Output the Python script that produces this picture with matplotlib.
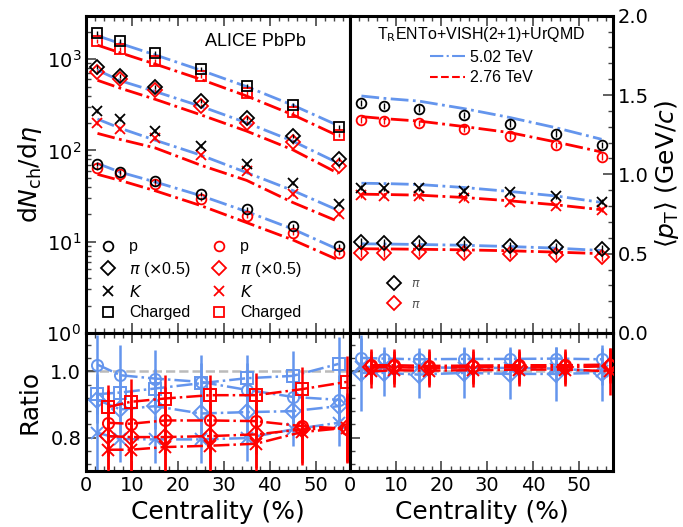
import matplotlib
matplotlib.use("Agg")
import matplotlib.pyplot as plt
from matplotlib.lines import Line2D
from matplotlib.ticker import MultipleLocator, LogLocator, NullFormatter
import numpy as np

### values
cent = [2.5, 7.5, 15, 25, 35, 45, 55]          # centrality bin centres (%)
cent_shift = [4.7, 9.7, 17.2, 27, 37, 47, 56.8]  # 2.76 TeV ratio points are shifted

# dNch/deta (ALICE data, 5.02 and 2.76 TeV)
ch_502 = [1943, 1587, 1180, 786, 512, 318, 183]
ch_276 = [1601, 1294, 966, 649, 426, 261, 149]
pi_502 = [830, 656, 496, 349, 229, 144, 81]     # x0.5
pi_276 = [730, 600, 455, 305, 201, 124, 68]
k_502 = [271, 220, 164, 112, 71.6, 44.3, 26.1]
k_276 = [202, 173, 138, 89, 60, 33, 20]
p_502 = [70.6, 58.5, 46.3, 33.1, 22.7, 14.9, 9.0]
p_276 = [64.8, 55.7, 42.6, 29.2, 19.1, 12.6, 7.6]

# model dNch/deta
ch_502_m = [1809, 1485, 1119, 758, 501, 314, 187]
ch_276_m = [1428, 1175, 887, 602, 395, 247, 144]
pi_502_m = [759, 581, 444, 305, 201, 127, 72.5]
pi_276_m = [588, 481, 365, 246, 163, 102, 56]
k_502_m = [221, 175, 130, 89, 57.2, 36.5, 22]
k_276_m = [154, 132, 107, 69, 47, 27, 16.6]
p_502_m = [72, 57.8, 45.3, 32, 21.4, 13.8, 8.2]
p_276_m = [54.8, 46.9, 36.3, 24.9, 16.2, 10.5, 6.3]

# <pT> data
mpt_p_502 = [1.448, 1.431, 1.414, 1.374, 1.320, 1.257, 1.183]
mpt_p_276 = [1.342, 1.336, 1.322, 1.288, 1.241, 1.185, 1.112]
mpt_k_502 = [0.917, 0.911, 0.911, 0.896, 0.886, 0.861, 0.827]
mpt_k_276 = [0.869, 0.864, 0.861, 0.848, 0.827, 0.802, 0.777]
mpt_pi_502 = [0.573, 0.569, 0.569, 0.563, 0.548, 0.542, 0.527]
mpt_pi_276 = [0.506, 0.506, 0.511, 0.506, 0.500, 0.494, 0.478]
# <pT> model
mpt_p_502_m = [1.494, 1.479, 1.462, 1.414, 1.358, 1.294, 1.221]
mpt_p_276_m = [1.364, 1.351, 1.336, 1.301, 1.263, 1.204, 1.141]
mpt_k_502_m = [0.944, 0.942, 0.936, 0.917, 0.892, 0.864, 0.823]
mpt_k_276_m = [0.875, 0.873, 0.869, 0.854, 0.833, 0.808, 0.777]
mpt_pi_502_m = [0.562, 0.561, 0.558, 0.553, 0.545, 0.535, 0.520]
mpt_pi_276_m = [0.531, 0.530, 0.528, 0.524, 0.518, 0.510, 0.500]

# ratios (model/data), left: dN/deta
r_p_502 = [1.020, 0.988, 0.978, 0.968, 0.944, 0.923, 0.914]
r_ch_502 = [0.931, 0.936, 0.948, 0.964, 0.979, 0.986, 1.022]
r_pi_502 = [0.914, 0.885, 0.895, 0.873, 0.877, 0.880, 0.895]
r_k_502 = [0.815, 0.796, 0.795, 0.795, 0.799, 0.825, 0.845]
r_p_276 = [0.845, 0.842, 0.852, 0.852, 0.850, 0.835, 0.827]
r_ch_276 = [0.892, 0.908, 0.918, 0.928, 0.928, 0.946, 0.968]
r_pi_276 = [0.805, 0.802, 0.802, 0.805, 0.810, 0.825, 0.830]
r_k_276 = [0.764, 0.764, 0.772, 0.776, 0.782, 0.817, 0.830]
e_p_502 = [0.09, 0.09, 0.085, 0.08, 0.08, 0.075, 0.075]
e_ch_502 = [0.06, 0.06, 0.06, 0.06, 0.07, 0.075, 0.08]
e_pi_502 = [0.07, 0.07, 0.07, 0.07, 0.07, 0.06, 0.07]
e_k_502 = [0.12, 0.07, 0.07, 0.07, 0.07, 0.05, 0.07]
e_p_276 = [0.1, 0.1, 0.1, 0.1, 0.1, 0.1, 0.1]
e_ch_276 = [0.066, 0.068, 0.07, 0.062, 0.068, 0.066, 0.077]
e_pi_276 = [0.1, 0.1, 0.1, 0.1, 0.1, 0.1, 0.1]
e_k_276 = [0.1, 0.1, 0.1, 0.1, 0.1, 0.1, 0.106]

# ratios, right: <pT>
rr_p_502 = [1.040, 1.038, 1.036, 1.037, 1.037, 1.038, 1.036]
rr_pi_502 = [0.995, 0.995, 0.990, 0.995, 0.992, 0.992, 0.995]
rr_k_502 = [1.012, 1.015, 1.012, 1.010, 1.010, 1.008, 1.000]
rr_p_276 = [1.018, 1.018, 1.016, 1.017, 1.018, 1.018, 1.020]
rr_pi_276 = [1.012, 1.012, 1.010, 1.012, 1.012, 1.012, 1.015]
rr_k_276 = [1.000, 1.003, 1.002, 1.003, 1.005, 1.005, 1.000]
ee_p_502 = [0.06, 0.035, 0.035, 0.035, 0.035, 0.035, 0.035]
ee_pi_502 = [0.115, 0.07, 0.07, 0.075, 0.075, 0.08, 0.085]
ee_k_502 = [0.04, 0.04, 0.04, 0.04, 0.04, 0.04, 0.04]
ee_p_276 = [0.05, 0.05, 0.05, 0.05, 0.05, 0.05, 0.05]
ee_pi_276 = [0.05, 0.05, 0.05, 0.05, 0.05, 0.05, 0.05]
ee_k_276 = [0.05, 0.05, 0.05, 0.05, 0.05, 0.05, 0.07]

blue = "#6495ED"
red = "#FF0000"
sans = ["Liberation Sans", "DejaVu Sans"]

fig = plt.figure(figsize=(6.83, 5.27), dpi=100)
x0, xm, x1 = 86/683, 350/683, 613/683
yt, ym, yb = 1-15.7/527, 1-333/527, 1-471/527
ax1 = fig.add_axes([x0, ym, xm-x0, yt-ym])
ax2 = fig.add_axes([xm, ym, x1-xm, yt-ym])
ax3 = fig.add_axes([x0, yb, xm-x0, ym-yb])
ax4 = fig.add_axes([xm, yb, x1-xm, ym-yb])

def style(ax):
    for s in ax.spines.values():
        s.set_linewidth(2.2)
    ax.set_xlim(0, 57.5)
    ax.xaxis.set_major_locator(MultipleLocator(10))
    ax.xaxis.set_minor_locator(MultipleLocator(2))
    ax.tick_params(which="both", direction="in", top=True, bottom=True,
                   labelsize=14, color="#444444")
    ax.tick_params(which="major", length=7, width=1.2)
    ax.tick_params(which="minor", length=3.5, width=1)

for ax in (ax1, ax2, ax3, ax4):
    style(ax)

mk = dict(ms=7, mfc="none", mew=1.3, ls="none", elinewidth=1, capsize=0)

### top left: dN/deta
sets = [("o", p_502, p_276, p_502_m, p_276_m),
        ("D", pi_502, pi_276, pi_502_m, pi_276_m),
        ("x", k_502, k_276, k_502_m, k_276_m),
        ("s", ch_502, ch_276, ch_502_m, ch_276_m)]
for m, d5, d2, m5, m2 in sets:
    ax1.plot(cent, m5, color=blue, ls="-.", lw=2, zorder=1)
    ax1.plot(cent, m2, color=red, ls="-.", lw=2, zorder=1)
    ax1.errorbar(cent, d2, yerr=np.array(d2)*0.05, marker=m, mec=red, ecolor=red, zorder=2, **mk)
    ax1.errorbar(cent, d5, yerr=np.array(d5)*0.05, marker=m, mec="k", ecolor="k", zorder=3, **mk)

ax1.set_yscale("log")
ax1.set_ylim(1, 3000)
ax1.yaxis.set_major_locator(LogLocator(base=10, numticks=10))
ax1.yaxis.set_minor_locator(LogLocator(base=10, subs=np.arange(2, 10), numticks=10))
ax1.yaxis.set_minor_formatter(NullFormatter())
ax1.tick_params(which="both", right=False, labelbottom=False)
ax1.set_ylabel(r"d$N_{\mathrm{ch}}$/d$\eta$", fontsize=18, labelpad=2)
ax1.text(0.64, 0.92, "ALICE PbPb", transform=ax1.transAxes, ha="center", va="center",
         fontsize=13, family=sans)

labs = ["p", r"$\pi$ ($\times$0.5)", r"$K$", "Charged"]
hs = [Line2D([], [], marker=m, ls="none", ms=7, mfc="none", mec=c, mew=1.3)
      for c in ("k", red) for m in ("o", "D", "x", "s")]
ax1.legend(hs, labs + labs, ncol=2, loc="lower left", bbox_to_anchor=(0.0, -0.005),
           frameon=False, prop={"family": sans, "size": 11.5}, handlelength=1.0,
           handletextpad=0.8, columnspacing=1.3, labelspacing=0.33)

### top right: <pT>
sets2 = [("o", mpt_p_502, mpt_p_276, mpt_p_502_m, mpt_p_276_m, 0.02),
         ("x", mpt_k_502, mpt_k_276, mpt_k_502_m, mpt_k_276_m, 0.015),
         ("D", mpt_pi_502, mpt_pi_276, mpt_pi_502_m, mpt_pi_276_m, 0.025)]
for m, d5, d2, m5, m2, e in sets2:
    ax2.plot(cent, m5, color=blue, ls="-.", lw=2, zorder=1)
    ax2.plot(cent, m2, color=red, ls="-.", lw=2, zorder=1)
    ax2.errorbar(cent, d2, yerr=e, marker=m, mec=red, ecolor=red, zorder=2, **mk)
    ax2.errorbar(cent, d5, yerr=e, marker=m, mec="k", ecolor="k", zorder=3, **mk)

ax2.set_ylim(0, 2)
ax2.yaxis.set_major_locator(MultipleLocator(0.5))
ax2.yaxis.set_minor_locator(MultipleLocator(0.1))
ax2.yaxis.tick_right()
ax2.yaxis.set_label_position("right")
ax2.yaxis.set_major_formatter(matplotlib.ticker.FormatStrFormatter("%.1f"))
ax2.tick_params(which="both", left=False, right=True, labelleft=False, labelright=True,
                labelbottom=False)
ax2.set_ylabel(r"$\langle p_{\mathrm{T}}\rangle$ (GeV/$c$)", fontsize=18, labelpad=3)

mh = [Line2D([], [], color=blue, ls="-.", lw=1.5), Line2D([], [], color=red, ls="--", lw=1.5)]
leg = ax2.legend(mh, ["5.02 TeV", "2.76 TeV"], title=r"T$_{\mathrm{R}}$ENTo+VISH(2+1)+UrQMD",
                 loc="upper center", bbox_to_anchor=(0.5, 1.0), frameon=False,
                 prop={"family": sans, "size": 11.5}, title_fontproperties={"family": sans, "size": 11.5},
                 handlelength=2.2, handletextpad=0.3, labelspacing=0.35, borderaxespad=0.2)
ax2.add_artist(leg)
ph = [Line2D([], [], marker="D", ls="none", ms=7, mfc="none", mec=c, mew=1.3) for c in ("k", red)]
ax2.legend(ph, [r"$\pi$", r"$\pi$"], loc="lower left", bbox_to_anchor=(0.1, 0.035),
           frameon=False, fontsize=9, labelcolor="#555555", handlelength=1.0,
           handletextpad=0.9, labelspacing=0.6)

### bottom left: ratios
rk = dict(ms=8, mfc="none", mew=1.4, ls="-.", lw=1.8, elinewidth=1.8, capsize=0)
for ax in (ax3, ax4):
    ax.axhline(1.0, color="#BBBBBB", ls="--", lw=1.8, zorder=0)
    ax.set_ylim(0.7, 1.115)
    ax.yaxis.set_major_locator(MultipleLocator(0.2))
    ax.yaxis.set_minor_locator(MultipleLocator(0.04))
    ax.set_xlabel("Centrality (%)", fontsize=18)

for m, r, e in [("o", r_p_502, e_p_502), ("s", r_ch_502, e_ch_502),
                ("D", r_pi_502, e_pi_502), ("x", r_k_502, e_k_502)]:
    ax3.errorbar(cent, r, yerr=e, marker=m, color=blue, mec=blue, zorder=2, **rk)
for m, r, e in [("o", r_p_276, e_p_276), ("s", r_ch_276, e_ch_276),
                ("D", r_pi_276, e_pi_276), ("x", r_k_276, e_k_276)]:
    ax3.errorbar(cent_shift, r, yerr=e, marker=m, color=red, mec=red, zorder=3, **rk)
ax3.set_yticks([0.8, 1.0])
ax3.yaxis.set_major_formatter(matplotlib.ticker.FormatStrFormatter("%.1f"))
ax3.tick_params(which="both", right=False)
ax3.set_ylabel("Ratio", fontsize=18, labelpad=6)

### bottom right: <pT> ratios
for m, r, e in [("o", rr_p_502, ee_p_502), ("D", rr_pi_502, ee_pi_502), ("x", rr_k_502, ee_k_502)]:
    ax4.errorbar(cent, r, yerr=e, marker=m, color=blue, mec=blue, zorder=2, **rk)
for m, r, e in [("o", rr_p_276, ee_p_276), ("D", rr_pi_276, ee_pi_276), ("x", rr_k_276, ee_k_276)]:
    ax4.errorbar(cent_shift, r, yerr=e, marker=m, color=red, mec=red, zorder=3, **rk)
ax4.tick_params(which="both", right=False, labelleft=False)

fig.savefig("out.png", dpi=100)
